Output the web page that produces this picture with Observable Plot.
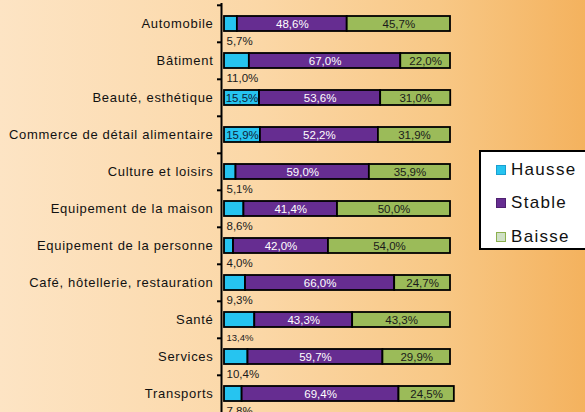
<!DOCTYPE html>
<html>
<head>
<meta charset="utf-8">
<script src="https://cdn.jsdelivr.net/npm/d3@7"></script>
<script src="https://cdn.jsdelivr.net/npm/@observablehq/plot@0.6"></script>
<style>
  html, body { margin: 0; padding: 0; }
  body {
    width: 585px; height: 412px; overflow: hidden; position: relative;
    background: linear-gradient(to right, #fde4c4 0%, #fbd7a6 45%, #f8c886 75%, #f4b25e 100%);
    font-family: "Liberation Sans", Arial, sans-serif;
  }
  #chart { position: absolute; left: 0; top: 0; }
  #chart svg { overflow: visible; }
  g[aria-label="y-axis tick label"] text { letter-spacing: 0.7px; }
  #legend {
    position: absolute; left: 479px; top: 150px; width: 112px; height: 100px;
    background: #fff; border: 2px solid #000; box-sizing: border-box;
  }
  .li { position: absolute; left: 15px; display: flex; align-items: center;
        font-size: 17px; letter-spacing: 1.3px; color: #111; }
  .sw { width: 8px; height: 8px; margin-right: 5px; border: 1px solid; }
</style>
</head>
<body>
<div id="chart"></div>
<div id="legend">
  <div class="li" style="top:8px"><span class="sw" style="background:#26c4f0;border-color:#1a9fd0"></span>Hausse</div>
  <div class="li" style="top:41px"><span class="sw" style="background:#662d91;border-color:#4f2070"></span>Stable</div>
  <div class="li" style="top:75px"><span class="sw" style="background:#cfe0c6;border-color:#8cb04e"></span>Baisse</div>
</div>
<script>
const categories = ["Automobile", "Bâtiment", "Beauté, esthétique", "Commerce de détail alimentaire",
  "Culture et loisirs", "Equipement de la maison", "Equipement de la personne",
  "Café, hôtellerie, restauration", "Santé", "Services", "Transports"];
const statuses = ["Hausse", "Stable", "Baisse"];
const hausse = [5.7, 11.0, 15.5, 15.9, 5.1, 8.6, 4.0, 9.3, 13.4, 10.4, 7.8];
const stable = [48.6, 67.0, 53.6, 52.2, 59.0, 41.4, 42.0, 66.0, 43.3, 59.7, 69.4];
const baisse = [45.7, 22.0, 31.0, 31.9, 35.9, 50.0, 54.0, 24.7, 43.3, 29.9, 24.5];
const colors = ["#26c4f0", "#662d91", "#9bbb59"];

const rows = [];
categories.forEach((cat, i) => {
  rows.push({cat, status: "Hausse", value: hausse[i]});
  rows.push({cat, status: "Stable", value: stable[i]});
  rows.push({cat, status: "Baisse", value: baisse[i]});
});
const fmt = v => v.toFixed(1).replace(".", ",") + "%";
const inside = d => d.status === "Hausse" ? d.value >= 15 : true;
const stackOpts = extra => Plot.stackX({x: "value", y: "cat", z: "status", order: statuses, ...extra});

const chart = Plot.plot({
  width: 585, height: 412,
  marginLeft: 224, marginRight: 135, marginTop: 3, marginBottom: 0,
  style: {background: "transparent", fontFamily: "Liberation Sans, Arial, sans-serif", overflow: "visible"},
  x: {domain: [0, 100], axis: null},
  y: {domain: categories, range: [3, 414.4], paddingInner: 0.6, paddingOuter: 0.3, axis: null},
  color: {domain: statuses, range: colors},
  marks: [
    Plot.barX(rows, Plot.stackX({x: "value", y: "cat", fill: "status", order: statuses,
      stroke: "#000", strokeWidth: 1.8})),
    Plot.text(rows, stackOpts({text: d => d.status === "Stable" ? fmt(d.value) : null,
      fill: "#fff", fontSize: 11.5})),
    Plot.text(rows, stackOpts({text: d => d.status === "Baisse" ? fmt(d.value) : null,
      fill: "#1a1a1a", fontSize: 11.5})),
    Plot.text(rows, stackOpts({text: d => d.status === "Hausse" && inside(d) ? fmt(d.value) : null,
      fill: "#0f2238", fontSize: 11.5})),
    Plot.text(rows.filter(d => d.status === "Hausse" && !inside(d)), {
      x: 0, y: "cat", text: d => fmt(d.value), textAnchor: "start", dx: 2, dy: 17.5,
      fill: "#1a1a1a", fontSize: d => d.cat === "Santé" ? 9.5 : 11.5}),
    Plot.ruleX([0], {dx: -3, stroke: "#000", strokeWidth: 2}),
    Plot.axisY({tickSize: 4, dx: -3, dy: -18.7, tickFormat: () => "", label: null, strokeWidth: 2}),
    Plot.axisY({tickSize: 0, tickPadding: 11, fontSize: 13, label: null, fill: "#111"})
  ]
});
document.getElementById("chart").appendChild(chart);
</script>
</body>
</html>
